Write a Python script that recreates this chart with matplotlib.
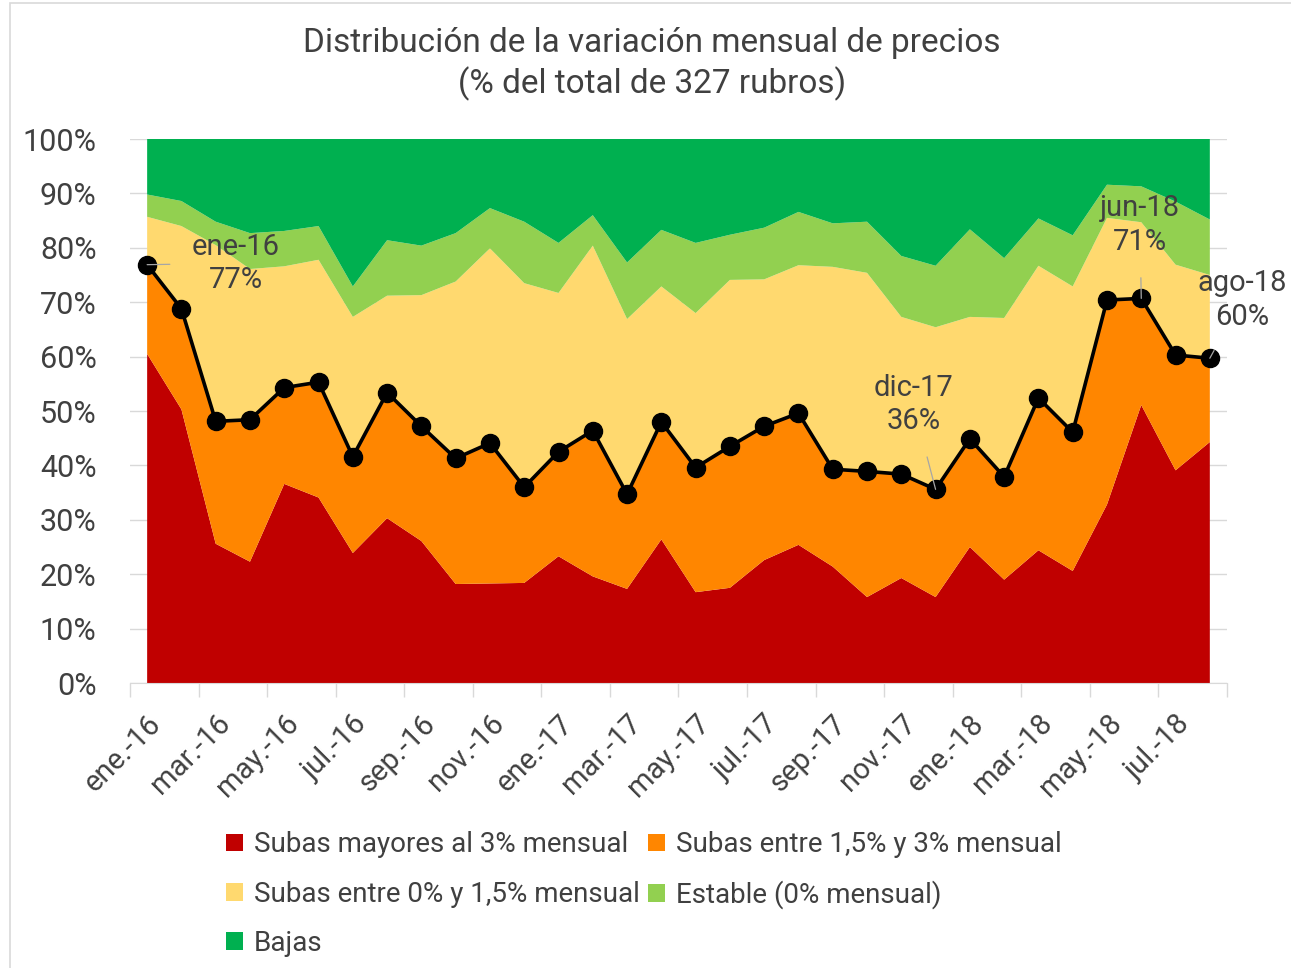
import matplotlib

matplotlib.use("Agg")
import matplotlib.pyplot as plt
from matplotlib import font_manager
from matplotlib.patches import Rectangle

# data: share of the 327 price items in each monthly-change bucket (%)
months = [
    "ene.-16", "feb.-16", "mar.-16", "abr.-16", "may.-16", "jun.-16", "jul.-16", "ago.-16",
    "sep.-16", "oct.-16", "nov.-16", "dic.-16", "ene.-17", "feb.-17", "mar.-17", "abr.-17",
    "may.-17", "jun.-17", "jul.-17", "ago.-17", "sep.-17", "oct.-17", "nov.-17", "dic.-17",
    "ene.-18", "feb.-18", "mar.-18", "abr.-18", "may.-18", "jun.-18", "jul.-18", "ago.-18",
]
subas_mayores_3 = [60.5, 50.3, 25.6, 22.3, 36.6, 34.1, 23.9, 30.3, 26.1, 18.2, 18.3, 18.4,
                   23.3, 19.6, 17.3, 26.4, 16.7, 17.5, 22.6, 25.4, 21.4, 15.8, 19.3, 15.8,
                   25.0, 19.0, 24.4, 20.6, 32.8, 51.1, 39.1, 44.3]
subas_15_3 = [16.4, 18.5, 22.5, 26.1, 17.7, 21.2, 17.7, 23.1, 21.1, 23.1, 25.8, 17.6,
              19.2, 26.8, 17.4, 21.6, 22.9, 26.0, 24.6, 24.2, 17.9, 23.1, 19.1, 19.8,
              19.9, 18.9, 28.0, 25.5, 37.6, 19.6, 21.2, 15.4]
subas_0_15 = [8.8, 15.2, 32.4, 27.7, 22.3, 22.5, 25.7, 17.8, 24.1, 32.5, 35.8, 37.5,
              29.2, 34.0, 32.2, 24.9, 28.4, 30.6, 27.0, 27.2, 37.2, 36.5, 28.9, 29.8,
              22.4, 29.2, 24.3, 26.8, 15.1, 14.0, 16.6, 15.3]
estable = [4.1, 4.6, 4.3, 6.6, 6.5, 6.2, 5.6, 10.2, 9.1, 8.9, 7.4, 11.3,
           9.2, 5.6, 10.4, 10.4, 12.9, 8.3, 9.5, 9.8, 8.0, 9.4, 11.2, 11.3,
           16.1, 11.0, 8.7, 9.4, 6.1, 6.6, 11.6, 10.2]
bajas = [10.2, 11.4, 15.2, 17.3, 16.9, 16.0, 27.1, 18.6, 19.6, 17.3, 12.7, 15.2,
         19.1, 14.0, 22.7, 16.7, 19.1, 17.6, 16.3, 13.4, 15.5, 15.2, 21.5, 23.3,
         16.6, 21.9, 14.6, 17.7, 8.4, 8.7, 11.5, 14.8]

series_names = [
    "Subas mayores al 3% mensual",
    "Subas entre 1,5% y 3% mensual",
    "Subas entre 0% y 1,5% mensual",
    "Estable (0% mensual)",
    "Bajas",
]
series_colors = ["#C00000", "#FF8600", "#FFD96F", "#92D050", "#00B050"]
highlight_months = ["ene.-16", "dic.-17", "jun.-18", "ago.-18"]

installed = {f.name for f in font_manager.fontManager.ttflist}
family = next(
    (name for name in ["Liberation Sans Narrow", "Roboto", "DejaVu Sans"] if name in installed),
    "DejaVu Sans",
)
plt.rcParams["font.family"] = family
text_color = "#404040"
grid_color = "#D9D9D9"

fig = plt.figure(figsize=(12.91, 9.68), dpi=100)
ax = fig.add_axes([0.1007, 0.2944, 0.8497, 0.5620])

x = list(range(len(months)))
ax.stackplot(
    x,
    subas_mayores_3, subas_15_3, subas_0_15, estable, bajas,
    colors=series_colors, labels=series_names, linewidth=0, zorder=2,
)

# more than 1,5% monthly: red + orange
above_15 = [a + b for a, b in zip(subas_mayores_3, subas_15_3)]
ax.plot(x, above_15, color="black", lw=2.6, marker="o", ms=13, zorder=4)

offsets = {"ene.-16": (64, 1), "dic.-17": (-16, 61), "jun.-18": (-1, 53), "ago.-18": (23, 42)}
for name in highlight_months:
    i = months.index(name)
    label = name.replace(".", "") + f"\n{round(above_15[i])}%"
    ax.annotate(
        label, xy=(i, above_15[i]), xytext=offsets[name], textcoords="offset points",
        ha="center", va="center", fontsize=21, color=text_color, linespacing=1.25,
        arrowprops=dict(arrowstyle="-", color="#A6A6A6", lw=0.9, shrinkA=14, shrinkB=0),
        zorder=5, annotation_clip=False,
    )

ax.set_xlim(-0.5, len(months) - 0.5)
ax.set_ylim(0, 100)
ax.set_yticks(range(0, 101, 10))
ax.set_yticklabels([f"{v}%" for v in range(0, 101, 10)], fontsize=22, color=text_color)
ax.tick_params(axis="y", length=0, pad=24)

ax.set_xticks([i - 0.5 for i in range(0, len(months) + 1, 2)])
ax.set_xticklabels([])
ax.set_xticks(x[::2], minor=True)
ax.set_xticklabels(months[::2], minor=True, rotation=45, ha="right",
                   rotation_mode="anchor", fontsize=21, color=text_color)
ax.tick_params(axis="x", which="major", length=10, color=grid_color, width=1)
ax.tick_params(axis="x", which="minor", length=0, pad=19)

ax.grid(axis="y", color=grid_color, lw=1, zorder=0)
ax.set_axisbelow(True)
for side in ["top", "left", "right"]:
    ax.spines[side].set_visible(False)
ax.spines["bottom"].set_color(grid_color)

fig.text(0.505, 0.956, "Distribución de la variación mensual de precios", ha="center",
         va="center", fontsize=24, color=text_color)
fig.text(0.505, 0.913, "(% del total de 327 rubros)", ha="center", va="center",
         fontsize=24, color=text_color)

handles, labels = ax.get_legend_handles_labels()
order = [0, 2, 4, 1, 3]
fig.legend(
    [handles[k] for k in order], [labels[k] for k in order],
    ncol=2, loc="upper left", bbox_to_anchor=(0.156, 0.167),
    frameon=False, fontsize=20, labelcolor=text_color, handlelength=0.6, handleheight=0.6,
    handletextpad=0.4, columnspacing=0.3, labelspacing=0.8,
)

fig.patches.append(Rectangle((0.008, -0.01), 1.0, 1.007, transform=fig.transFigure,
                             fill=False, edgecolor=grid_color, lw=1.2))

fig.savefig("out.png", dpi=100)
